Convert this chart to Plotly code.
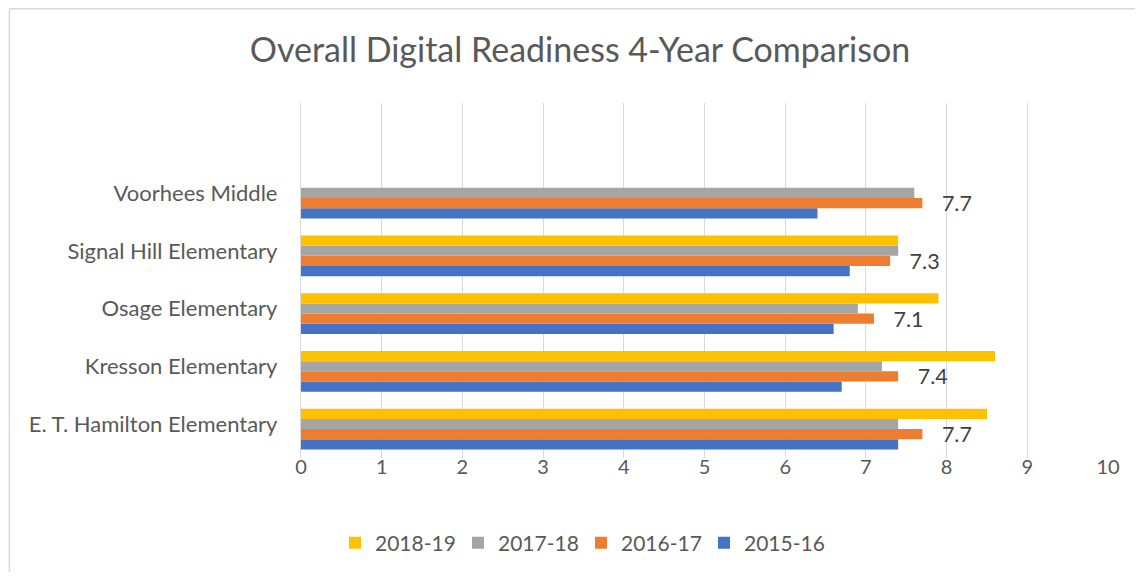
import plotly.graph_objects as go

schools = ["E. T. Hamilton Elementary", "Kresson Elementary", "Osage Elementary",
           "Signal Hill Elementary", "Voorhees Middle"]
years = ["2015-16", "2016-17", "2017-18", "2018-19"]
v_2015_16 = [7.4, 6.7, 6.6, 6.8, 6.4]
v_2016_17 = [7.7, 7.4, 7.1, 7.3, 7.7]
v_2017_18 = [7.4, 7.2, 6.9, 7.4, 7.6]
v_2018_19 = [8.5, 8.6, 7.9, 7.4, None]
series = [v_2015_16, v_2016_17, v_2017_18, v_2018_19]
colors = ["#4472C4", "#ED7D31", "#A5A5A5", "#FFC000"]
labelled = "2016-17"
x_ticks = list(range(0, 11))

FONT = "Lato"
TXT = "#595959"

# page is drawn with an 8px body margin
O = 8
W, H = 1135, 564

def fx(x):
    return x - O

def fy(y):
    return y - O

L, R, T, B = fx(300.5), fx(1108), fy(103), fy(458)
pw, ph = R - L, B - T

def px_fig(x):
    return (x - L) / pw

def py_fig(y):
    return (B - y) / ph

def py(y):
    return py_fig(fy(y))

fig = go.Figure()
for name, vals, col in zip(years, series, colors):
    kw = {}
    if name == labelled:
        kw = dict(text=vals, texttemplate="\u00a0\u00a0\u00a0%{x:.1f}", textposition="outside",
                  textfont=dict(family=FONT, size=21.5, color="#404040"),
                  constraintext="none", cliponaxis=False)
    fig.add_trace(go.Bar(y=schools, x=vals, name=name, orientation="h",
                         marker=dict(color=col, line=dict(width=0)), **kw))

border = dict(color="#D9D9D9", width=1.5)
fig.update_layout(
    width=W, height=H,
    barmode="group", bargap=0.295, bargroupgap=0,
    margin=dict(l=L, r=W - R, t=T, b=H - B, autoexpand=False),
    paper_bgcolor="white", plot_bgcolor="white",
    title=dict(text="Overall Digital Readiness 4-Year Comparison",
               font=dict(family=FONT, size=34, color=TXT),
               x=fx(580) / W, xanchor="center", y=1 - fy(50) / H, yanchor="middle"),
    xaxis=dict(range=[0, 10], tickvals=x_ticks, showgrid=True, gridcolor="#D9D9D9",
               gridwidth=1.3, zeroline=False, showline=False,
               tickfont=dict(family=FONT, size=20, color=TXT), ticks="",
               ticklabelstandoff=-5),
    yaxis=dict(showline=True, linecolor="#D9D9D9", linewidth=1.3, ticks="",
               range=[-0.5, 5.645],
               tickfont=dict(family=FONT, size=22, color=TXT), ticklabelstandoff=18,
               ticklabelshift=-5),
    legend=dict(orientation="h", traceorder="reversed", xref="container",
                x=fx(581) / W, xanchor="center", y=py(543), yanchor="middle",
                font=dict(family=FONT, size=21, color=TXT),
                entrywidth=78, entrywidthmode="pixels"),
    shapes=[
        dict(type="line", xref="paper", yref="paper",
             x0=px_fig(0.75), x1=px_fig(W + 20), y0=py_fig(0.75), y1=py_fig(0.75),
             line=border, layer="below"),
        dict(type="line", xref="paper", yref="paper",
             x0=px_fig(0.75), x1=px_fig(0.75), y0=py_fig(0.75), y1=py_fig(H + 20),
             line=border, layer="below"),
    ],
)

fig.write_html("out.html")
